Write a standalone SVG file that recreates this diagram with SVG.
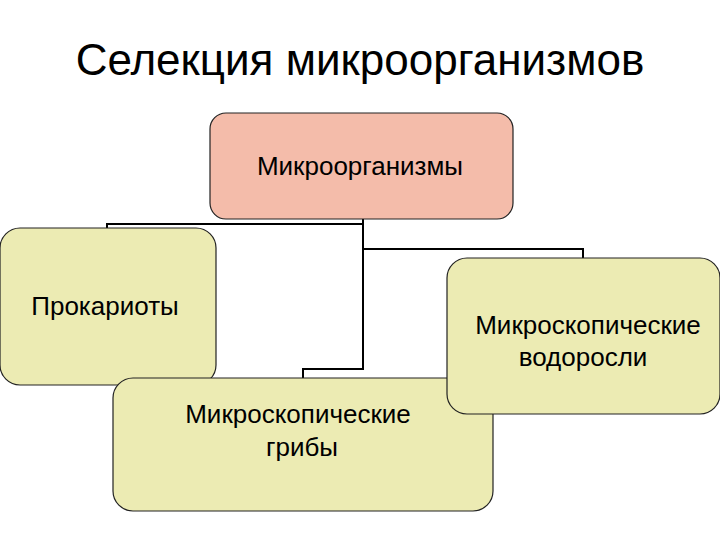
<svg xmlns="http://www.w3.org/2000/svg" width="720" height="540" viewBox="0 0 720 540">
<style>
.t{font-family:"Liberation Sans",Arial,sans-serif;fill:#000;text-anchor:middle}
.n{fill:#ecebb3;stroke:#222;stroke-width:1.2}
.c{fill:none;stroke:#000;stroke-width:2}
</style>
<rect width="720" height="540" fill="#fff"/>
<text class="t" x="360" y="75" font-size="44">Селекция микроорганизмов</text>
<g id="connectors">
<polyline class="c" points="107,228 107,224 363,224"/>
<polyline class="c" points="363,219 363,369 303,369 303,378"/>
<polyline class="c" points="363,249 583,249 583,258"/>
</g>
<g id="root"><rect x="210" y="113" width="303" height="106" rx="16" fill="#f4bcaa" stroke="#222" stroke-width="1.2"/>
<text class="t" x="360" y="175" font-size="26">Микроорганизмы</text></g>
<g id="prok"><rect class="n" x="0" y="228" width="216" height="157" rx="20"/>
<text class="t" x="105" y="315" font-size="26">Прокариоты</text></g>
<g id="fungi"><rect class="n" x="113" y="378" width="380" height="133" rx="20"/>
<text class="t" x="298" y="423" font-size="26">Микроскопические</text>
<text class="t" x="302" y="456" font-size="26">грибы</text></g>
<g id="algae"><rect class="n" x="447" y="258" width="273" height="156" rx="20"/>
<text class="t" x="588" y="334" font-size="26">Микроскопические</text>
<text class="t" x="583" y="366" font-size="26">водоросли</text></g>
</svg>
